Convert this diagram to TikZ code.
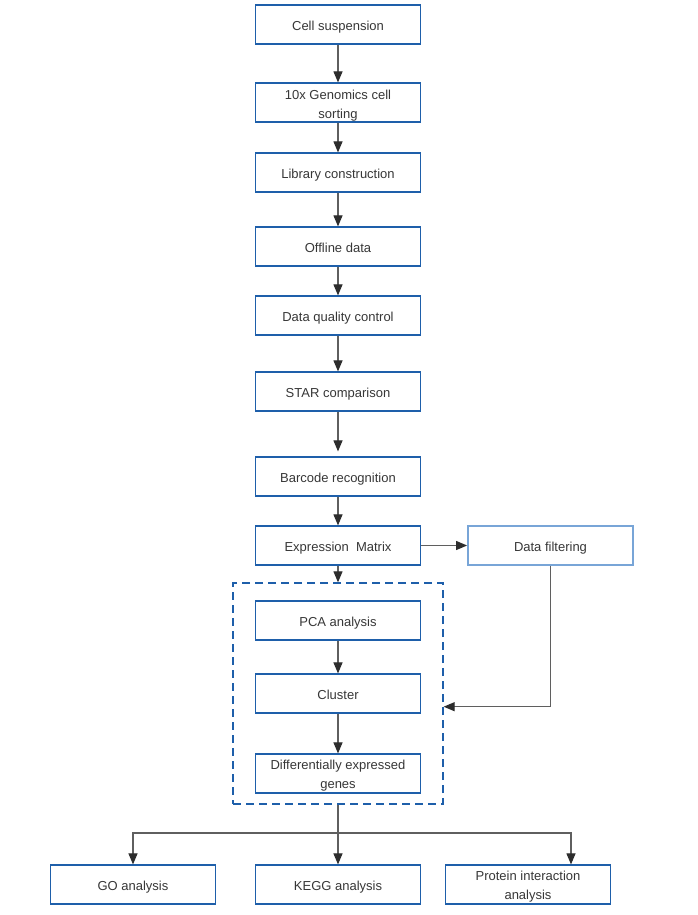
\documentclass[tikz,border=0pt]{standalone}
\usepackage{fontspec}
\setmainfont{Liberation Sans}
\usetikzlibrary{arrows.meta}
\definecolor{boxblue}{RGB}{30,95,170}
\definecolor{lightblue}{RGB}{120,165,215}
\definecolor{txt}{RGB}{55,55,55}
\definecolor{lin}{RGB}{95,95,95}
\definecolor{head}{RGB}{45,45,45}
\begin{document}
\begin{tikzpicture}[x=1pt,y=-1pt,
  box/.style={draw=boxblue,line width=1.2pt,fill=white,minimum width=165pt,minimum height=39pt,inner sep=0pt,align=center,text=txt,font=\fontsize{13}{19}\selectfont,text height=12.4pt,text depth=0pt},
  twoline/.style={text height=#1,text depth=0pt},
  grpbox/.style={draw=boxblue,line width=1.3pt,dash pattern=on 8pt off 5pt,minimum width=210pt,minimum height=221pt,inner sep=0pt},
  arr/.style={draw=lin,line width=1.1pt,-{Triangle[length=11pt,width=9pt,fill=head,color=head]}},
  ln/.style={draw=lin,line width=1.1pt}]
\useasboundingbox (0,0) rectangle (698,915);
\fill[white] (0,0) rectangle (698,915);
\node[grpbox] (grp) at (338,693.5) {};
\node[box] (cell) at (338,24.5) {Cell suspension};
\node[box,twoline=31.5pt] (sort) at (338,102.5) {10x Genomics cell\\sorting};
\node[box] (lib) at (338,172.5) {Library construction};
\node[box] (off) at (338,246.5) {Offline data};
\node[box] (dqc) at (338,315.5) {Data quality control};
\node[box] (star) at (338,391.5) {STAR comparison};
\node[box] (bar) at (338,476.5) {Barcode recognition};
\node[box] (expr) at (338,545.5) {Expression\ \ Matrix};
\node[box,draw=lightblue,line width=1.8pt] (filt) at (550.5,545.5) {Data filtering};
\node[box] (pca) at (338,620.5) {PCA analysis};
\node[box] (clu) at (338,693.5) {Cluster};
\node[box,twoline=29.5pt] (deg) at (338,773.5) {Differentially expressed\\genes};
\node[box] (go) at (133,884.5) {GO analysis};
\node[box] (kegg) at (338,884.5) {KEGG analysis};
\node[box,twoline=29.5pt] (prot) at (528,884.5) {Protein interaction\\analysis};
\coordinate (br) at (338,833);
\draw[arr] (cell) -- (sort);
\draw[arr] (sort) -- (lib);
\draw[arr] (lib) -- (off);
\draw[arr] (off) -- (dqc);
\draw[arr] (dqc) -- (star);
\draw[arr,shorten >=5pt] (star) -- (bar);
\draw[arr] (bar) -- (expr);
\draw[arr] (expr) -- (grp.north);
\draw[arr] (expr) -- (filt);
\draw[arr] (pca) -- (clu);
\draw[arr] (clu) -- (deg);
\draw[arr] (filt.south) |- ([yshift=-13.2pt]grp.east);
\draw[ln] (grp.south) -- (br);
\draw[arr] (br) -| (go.north);
\draw[arr] (br) -- (kegg.north);
\draw[arr] (br) -| ([xshift=43pt]prot.north);
\end{tikzpicture}
\end{document}
